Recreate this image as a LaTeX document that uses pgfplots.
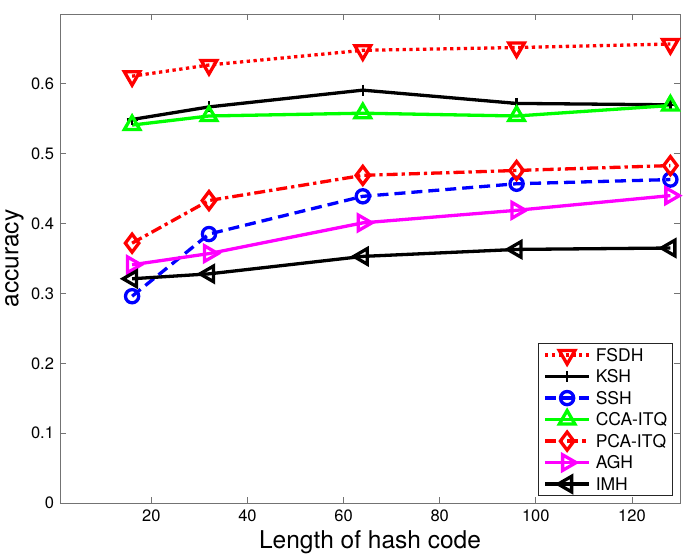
\documentclass[border=0pt]{standalone}
\usepackage{fontspec}
\setmainfont{TeX Gyre Heros}
\usepackage{pgfplots}
\pgfplotsset{compat=1.18}
\definecolor{mgt}{rgb}{1,0,1}
\definecolor{grn}{rgb}{0,1,0}
\definecolor{rd}{rgb}{1,0,0}
\definecolor{bl}{rgb}{0,0,1}
\begin{document}
\begin{tikzpicture}
\begin{axis}[
  name=ax,
  scale only axis,
  width=620pt, height=489pt,
  xmin=1, xmax=130, ymin=0, ymax=0.7,
  xtick={20,40,60,80,100,120},
  ytick={0,0.1,0.2,0.3,0.4,0.5,0.6},
  tick align=inside,
  tick pos=both,
  major tick length=6pt,
  axis line style={black!55, line width=0.8pt},
  tick style={black!55, line width=0.8pt},
  /pgf/number format/assume math mode=true,
  ticklabel style={font=\fontsize{16.5}{19}\selectfont, text=black},
  xticklabel style={yshift=-3.5pt},
  yticklabel style={xshift=-2.5pt},
  xlabel={Length of hash code},
  ylabel={accuracy},
  label style={font=\fontsize{24.5}{28}\selectfont},
  xlabel style={at={(axis description cs:0.5,-0.09305)}, anchor=base},
  ylabel style={at={(axis description cs:-0.0672,0.5)}, anchor=base, inner sep=0pt},
  legend style={at={(axis description cs:0.98871,0.01431)}, anchor=south east,
    draw=black!85, line width=0.8pt, inner xsep=5.5pt, inner ysep=0.75pt, row sep=0pt,
    font=\fontsize{17.5}{21}\selectfont,
    nodes={inner xsep=0pt, inner ysep=1pt, text height=16pt, text depth=3.5pt}},
  legend cell align=left,
  legend image code/.code={
    \draw[mark repeat=2,mark phase=2] plot coordinates {(0pt,0pt) (22pt,0pt) (44pt,0pt)};
    \path (49pt,0pt);
  },
  every axis plot/.append style={line width=3.3pt},
]
\addplot[rd, dash pattern=on 3.3pt off 3.5pt, mark=triangle, mark size=9pt, mark options={solid, rotate=180}]
  coordinates {(16,0.611) (32,0.627) (64,0.648) (96,0.652) (128,0.657)};
\addlegendentry{FSDH}
\addplot[black, solid, mark=+, mark size=5.5pt, mark options={solid, line width=2.5pt}]
  coordinates {(16,0.549) (32,0.567) (64,0.591) (96,0.572) (128,0.570)};
\addlegendentry{KSH}
\addplot[bl, dash pattern=on 11pt off 6pt, mark=o, mark size=6.6pt, mark options={solid}]
  coordinates {(16,0.296) (32,0.385) (64,0.439) (96,0.457) (128,0.463)};
\addlegendentry{SSH}
\addplot[grn, solid, mark=triangle, mark size=9pt, mark options={solid}]
  coordinates {(16,0.541) (32,0.554) (64,0.558) (96,0.554) (128,0.569)};
\addlegendentry{CCA-ITQ}
\addplot[rd, dash pattern=on 11pt off 4pt on 3.3pt off 4pt, mark=diamond, mark size=9pt, mark options={solid}]
  coordinates {(16,0.372) (32,0.433) (64,0.469) (96,0.476) (128,0.483)};
\addlegendentry{PCA-ITQ}
\addplot[mgt, solid, mark=triangle, mark size=9pt, mark options={solid, rotate=-90}]
  coordinates {(16,0.341) (32,0.357) (64,0.401) (96,0.419) (128,0.440)};
\addlegendentry{AGH}
\addplot[black, solid, mark=triangle, mark size=9pt, mark options={solid, rotate=90}]
  coordinates {(16,0.321) (32,0.328) (64,0.353) (96,0.363) (128,0.365)};
\addlegendentry{IMH}
\end{axis}
\pgfresetboundingbox
\path ([xshift=-60pt,yshift=-56pt]ax.south west) rectangle ([xshift=6pt,yshift=14pt]ax.north east);
\end{tikzpicture}
\end{document}
